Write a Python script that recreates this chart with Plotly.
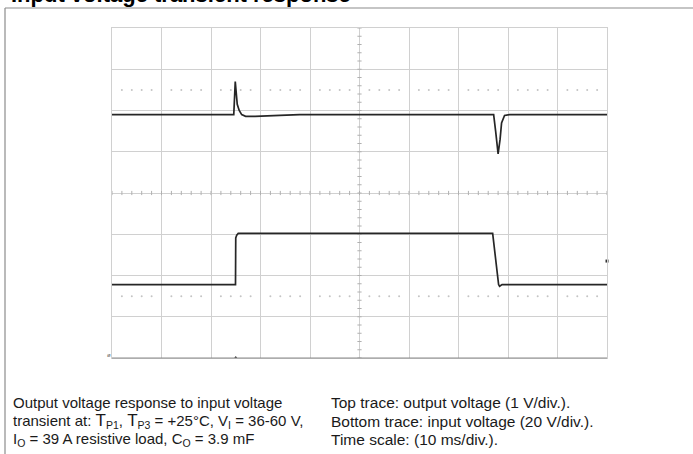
import plotly.graph_objects as go

# ---- data (screen divisions; time in ms, 10 ms/div) ----
out_t = [0, 24.6, 24.9, 25.0, 25.3, 25.7, 26.2, 27.0, 28.9, 33.9, 37.9, 60.0, 77.1, 77.5, 78.0, 78.4, 78.7, 79.3, 80.3, 100]
out_v = [1.90, 1.90, 2.70, 2.55, 2.15, 2.00, 1.90, 1.86, 1.86, 1.88, 1.90, 1.90, 1.90, 1.50, 0.95, 1.30, 1.70, 1.88, 1.90, 1.90]

in_t = [0, 24.95, 25.0, 25.2, 25.5, 76.9, 78.1, 78.3, 78.8, 100]
in_v = [-2.22, -2.22, -1.09, -1.02, -0.98, -0.98, -2.22, -2.26, -2.22, -2.22]

ref_levels = [2.5, -2.5]
trig_level = -1.65
trig_time = 25.0

title_text = "Input voltage transient response"
BT = "<span style='font-size:17px'>T</span>"
caption_left = [
    "Output voltage response to input voltage",
    "transient at: " + BT + "<sub>P1</sub>, " + BT + "<sub>P3</sub> = +25°C, V<sub>I</sub> = 36-60 V,",
    "I<sub>O</sub> = 39 A resistive load, C<sub>O</sub> = 3.9 mF",
]
caption_right = [
    "Top trace: output voltage (1 V/div.).",
    "Bottom trace: input voltage (20 V/div.).",
    "Time scale: (10 ms/div.).",
]

# ---- layout geometry ----
W, H = 693, 454
L, R, T, B = 112, 86, 28, 96
PW, PH = W - L - R, H - T - B

def px(xp):
    return (xp - L) / PW

def py(yp):
    return (H - B - yp) / PH

fig = go.Figure()

# dotted reference rows (minor subdivisions, skipping grid lines)
dot_x = [i * 2 for i in range(51) if (i * 2) % 10 != 0]
for lv in ref_levels:
    fig.add_trace(go.Scatter(x=dot_x, y=[lv] * len(dot_x), mode="markers",
                             marker=dict(size=2, color="#c4c4c4"),
                             hoverinfo="skip", showlegend=False))

# minor ticks on centre lines
tick_y = [-4 + 0.2 * i for i in range(41)]
fig.add_trace(go.Scatter(x=[50] * len(tick_y), y=tick_y, mode="markers",
                         marker=dict(symbol="line-ew", size=3,
                                     line=dict(width=1, color="#b0b0b0")),
                         hoverinfo="skip", showlegend=False))
tick_x = [2 * i for i in range(51)]
fig.add_trace(go.Scatter(x=tick_x, y=[0] * len(tick_x), mode="markers",
                         marker=dict(symbol="line-ns", size=3,
                                     line=dict(width=1, color="#b0b0b0")),
                         hoverinfo="skip", showlegend=False))

# traces
fig.add_trace(go.Scatter(x=out_t, y=out_v, mode="lines",
                         line=dict(color="#262626", width=1.7),
                         showlegend=False))
fig.add_trace(go.Scatter(x=in_t, y=in_v, mode="lines",
                         line=dict(color="#262626", width=1.7),
                         showlegend=False))

# trigger level marker at right edge
fig.add_trace(go.Scatter(x=[100], y=[trig_level], mode="markers",
                         marker=dict(symbol="square", size=3, color="#333"),
                         cliponaxis=False, hoverinfo="skip", showlegend=False))
# trigger position marker below the grid
fig.add_trace(go.Scatter(x=[trig_time], y=[-4], mode="markers",
                         marker=dict(symbol="triangle-up", size=4, color="#333"),
                         cliponaxis=False, hoverinfo="skip", showlegend=False))

fig.update_xaxes(range=[0, 100], dtick=10, tick0=0, showgrid=True,
                 gridcolor="#d0d0d0", gridwidth=1, showticklabels=False,
                 zeroline=False, showline=True, mirror=True,
                 linecolor="#d0d0d0", linewidth=1, ticks="", fixedrange=True)
fig.update_yaxes(range=[-4, 4], dtick=1, tick0=0, showgrid=True,
                 gridcolor="#d0d0d0", gridwidth=1, showticklabels=False,
                 zeroline=False, showline=True, mirror=True,
                 linecolor="#d0d0d0", linewidth=1, ticks="", fixedrange=True)

shapes = [
    # darker bottom edge of graticule
    dict(type="line", xref="paper", yref="paper", x0=0, x1=1, y0=0, y1=0,
         line=dict(color="#8a8a8a", width=1)),
    # caption box: top and left lines
    dict(type="line", xref="paper", yref="paper", x0=px(5), x1=px(693),
         y0=py(8), y1=py(8), line=dict(color="#8c8c8c", width=1.2)),
    dict(type="line", xref="paper", yref="paper", x0=px(5), x1=px(5),
         y0=py(8), y1=py(454), line=dict(color="#8c8c8c", width=1.2)),
]

FONT = "Liberation Sans, Arial"
annotations = [
    dict(text="<b>" + title_text + "</b>", xref="paper", yref="paper",
         x=px(9), y=py(-5.5), xanchor="left", yanchor="middle", showarrow=False,
         font=dict(family=FONT, size=22, color="#000")),
    dict(text="ø", xref="paper", yref="paper", x=px(109), y=py(355),
         xanchor="center", yanchor="middle", showarrow=False,
         font=dict(family=FONT, size=6, color="#666")),
]
for i, line in enumerate(caption_left):
    annotations.append(dict(text=line, xref="paper", yref="paper",
                            x=px(11), y=py(403 + 18.2 * i), xanchor="left",
                            yanchor="middle", showarrow=False, align="left",
                            font=dict(family=FONT, size=15, color="#1a1a1a")))
for i, line in enumerate(caption_right):
    annotations.append(dict(text=line, xref="paper", yref="paper",
                            x=px(329), y=py(403 + 18.2 * i), xanchor="left",
                            yanchor="middle", showarrow=False, align="left",
                            font=dict(family=FONT, size=15.5, color="#1a1a1a")))

fig.update_layout(width=W, height=H, margin=dict(l=L, r=R, t=T, b=B, pad=0),
                  paper_bgcolor="white", plot_bgcolor="white",
                  shapes=shapes, annotations=annotations, showlegend=False)

fig.write_html("out.html", config={"displayModeBar": False},
               post_script="document.body.style.margin='0';document.body.style.overflow='hidden';")
